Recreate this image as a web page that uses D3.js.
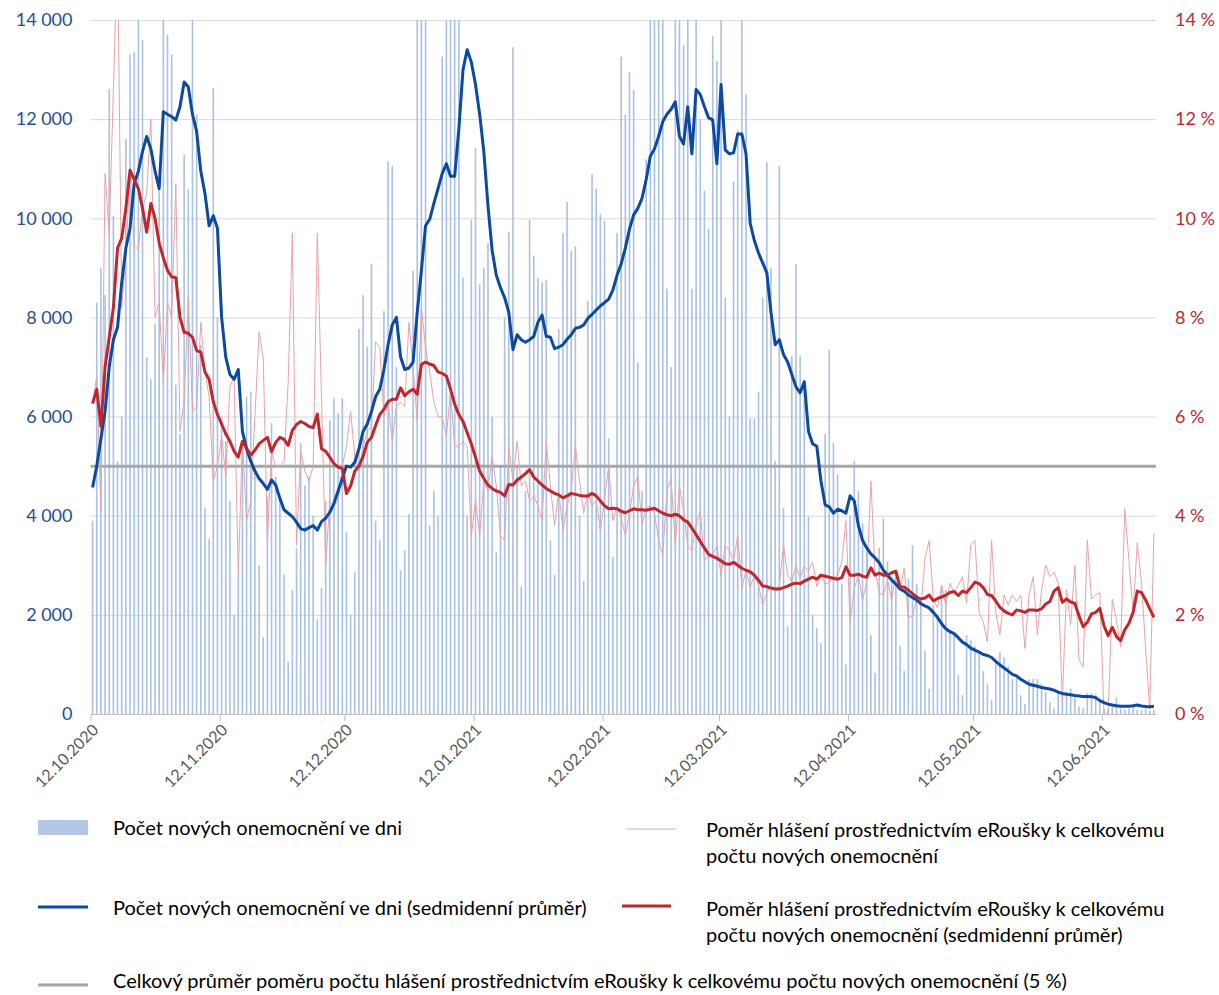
<!DOCTYPE html>
<html>
<head>
<meta charset="utf-8">
<script src="https://cdn.jsdelivr.net/npm/d3@7"></script>
<style>
  body { margin: 0; background: #fff; }
  text { font-family: Lato, 'Open Sans', sans-serif; }
</style>
</head>
<body>
<div id="chart"></div>
<script>
// first day of the series, then one value per day
const firstDay = '12.10.2020';
const monthTicks = ['12.10.2020', '12.11.2020', '12.12.2020', '12.01.2021', '12.02.2021',
  '12.03.2021', '12.04.2021', '12.05.2021', '12.06.2021'];
const leftTicks = [0, 2000, 4000, 6000, 8000, 10000, 12000, 14000];
const rightTicks = [0, 2, 4, 6, 8, 10, 12, 14];
const overallShare = 5;

// Počet nových onemocnění ve dni
const dailyCases = [
  3900, 8300, 9000, 8450, 12600, 10050, 5100,
  6000, 11600, 13300, 13350, 15200, 13600, 7200,
  6750, 7870, 10800, 17000, 13700, 13300, 6640,
  5650, 11280, 10580, 15000, 12100, 7450, 4160,
  3530, 12630, 8000, 6000, 5500, 4300, 2000,
  2800, 5500, 6400, 6500, 5000, 3000, 1550,
  4390, 5870, 4790, 4390, 2810, 1050, 2500,
  3350, 5470, 4610, 4790, 4000, 1910, 2540,
  4300, 5920, 6370, 6060, 6370, 3670, 2000,
  2860, 7770, 8450, 7410, 9080, 3900, 3500,
  8130, 11150, 11060, 7000, 2900, 3300, 4030,
  8940, 16500, 17000, 15000, 3800, 4500, 4000,
  13260, 17000, 16000, 15500, 15000, 8800, 4000,
  9970, 11420, 8670, 9000, 9500, 6000, 3260,
  5000, 8000, 9720, 13450, 5000, 2570,
  4500, 9970, 9250, 8800, 8710, 8760, 3500,
  2810, 7770, 9700, 10330, 9340, 9430, 4000,
  2680, 8330, 10890, 10600, 10080, 9950, 5560,
  3170, 9700, 13260, 12090, 12950, 12590, 7090,
  4500, 11190, 15000, 15500, 15500, 15000, 8580,
  7000, 14500, 15000, 13490, 15500, 8580, 15500,
  12000, 10560, 9790, 13670, 13170, 15500, 8400,
  6000, 10740, 11780, 15000, 12500, 5960, 5960,
  6500, 8400, 11130, 9000, 5110, 11060, 4160,
  1770, 7220, 9080, 7220, 6730, 3980, 2000,
  1730, 1430, 5650, 7340, 5470, 4840, 2630,
  1000, 4000, 5110, 4500, 3850, 3400, 1590,
  830, 3350, 3940, 3080, 2770, 2900, 1370,
  870, 2720, 3400, 2630, 2320, 1280, 510,
  2200, 2000, 2590, 2500, 1640, 1610, 780,
  380, 1590, 1500, 1370, 1240, 870, 600,
  290, 1050, 1250, 1140, 960, 710, 730,
  380, 200, 700, 710, 700, 600, 450,
  240, 110, 420, 420, 450, 510, 330,
  150, 110, 420, 420, 400, 240, 110,
  80, 200, 330, 110, 90, 110, 150,
  80, 80, 110, 60, 80
];

// Počet nových onemocnění ve dni (sedmidenní průměr)
const casesAvg = [
  4570, 5000, 5550, 6100, 7000, 7550, 7800,
  8700, 9400, 9800, 10700, 10950, 11350, 11650,
  11400, 10950, 10600, 12150, 12100, 12050, 11980,
  12250, 12750, 12650, 12100, 11750, 10950, 10500,
  9850, 10050, 9800, 8000, 7200, 6850, 6750,
  6950, 5700, 5350, 5100, 4900, 4750, 4650,
  4530, 4720, 4620, 4350, 4120, 4050, 3980,
  3870, 3740, 3710, 3760, 3800, 3710, 3880,
  3950, 4070, 4250, 4500, 4750, 5000, 4980,
  5080, 5350, 5700, 5850, 6100, 6400, 6550,
  6950, 7450, 7850, 8000, 7200, 6950, 6980,
  7100, 8100, 8950, 9850, 9980, 10300, 10600,
  10900, 11100, 10850, 10850, 11800, 13000, 13400,
  13150, 12700, 12100, 11350, 10250, 9350, 8850,
  8600, 8400, 8100, 7350, 7650, 7550,
  7500, 7550, 7620, 7900, 8050, 7620, 7600,
  7370, 7400, 7450, 7560, 7650, 7780, 7800,
  7850, 7980, 8060, 8150, 8230, 8300, 8370,
  8550, 8850, 9080, 9400, 9780, 10070, 10200,
  10400, 10780, 11250, 11400, 11650, 11950, 12100,
  12200, 12350, 11650, 11500, 12250, 11300, 12600,
  12500, 12250, 12030, 11980, 11100, 12700, 11380,
  11300, 11320, 11700, 11700, 11300, 9900, 9550,
  9300, 9100, 8900, 8100, 7450, 7550, 7250,
  7100, 6850, 6600, 6480, 6700, 5700, 5450,
  5400, 4700, 4220, 4180, 4050, 4130, 4100,
  4050, 4400, 4300, 3800, 3500, 3350, 3230,
  3150, 3050, 2900, 2800, 2700, 2620, 2520,
  2480, 2400, 2350, 2300, 2230, 2180, 2140,
  2050, 1950, 1820, 1720, 1660, 1620, 1540,
  1450, 1400, 1330, 1290, 1250, 1200, 1180,
  1140, 1060, 990, 930, 865, 800, 770,
  700, 650, 600, 580, 560, 535, 520,
  505, 480, 440, 415, 400, 390, 375,
  365, 355, 355, 350, 330, 270, 230,
  200, 180, 168, 158, 155, 155, 165,
  180, 160, 150, 145, 155
];

// Poměr hlášení prostřednictvím eRoušky k celkovému počtu nových onemocnění (%)
const dailyShare = [
  6.3, 6.8, 4.1, 10.9, 9.7, 12.6, 15.5,
  8.2, 9.2, 11.0, 9.4, 9.4, 10.2, 10.5,
  12.0, 8.0, 8.3, 6.7, 8.3, 8.0, 10.7,
  5.7, 6.3, 8.4, 6.1, 6.2, 7.9, 6.9,
  6.4, 4.7, 5.0, 5.6, 4.8, 6.6, 6.8,
  2.8, 5.5, 3.9, 4.3, 6.0, 7.7, 7.2,
  3.5, 5.3, 5.0, 5.0, 5.1, 6.7, 9.7,
  3.4, 5.3, 4.9, 4.7, 5.0, 9.7, 6.4,
  3.0, 4.3, 4.2, 4.3, 5.0, 5.4, 6.1,
  5.2, 4.9, 5.4, 5.7, 5.8, 7.5, 7.4,
  6.0, 6.3, 5.5, 6.2, 6.3, 6.2, 7.9,
  7.0, 5.9, 8.2, 7.4, 6.9, 6.3, 6.0,
  6.0, 5.6, 6.5, 5.4, 5.4, 5.5, 5.4,
  3.6, 4.3, 3.6, 4.7, 4.5, 5.2, 4.6,
  3.6, 3.5, 5.4, 4.7, 5.5, 4.6,
  4.7, 4.3, 4.4, 4.2, 3.9, 5.5, 4.6,
  3.8, 4.5, 3.7, 4.2, 4.5, 5.4, 4.7,
  4.05, 4.5, 4.2, 4.3, 3.7, 4.35, 5.0,
  3.9, 4.2, 3.95, 3.6, 4.05, 4.6, 4.8,
  3.8, 4.15, 4.2, 4.05, 3.5, 3.2, 4.5,
  4.75, 3.4, 4.6, 4.1, 3.4, 3.3, 3.8,
  4.1, 3.1, 3.2, 3.2, 3.4, 2.8, 3.4,
  3.3, 3.1, 3.6, 2.55, 2.9, 2.55, 2.8,
  2.6, 2.2, 2.45, 2.6, 2.5, 2.6, 3.4,
  2.8, 2.66, 2.98, 2.75, 2.98, 2.89, 3.07,
  2.57, 2.8, 2.62, 2.66, 2.75, 2.8, 3.07,
  3.9, 1.85, 2.53, 2.8, 2.3, 2.66, 4.7,
  2.89, 2.44, 2.4, 2.7, 2.3, 2.82, 2.5,
  2.94, 1.95, 1.97, 2.34, 2.15, 3.14, 3.5,
  2.32, 2.14, 2.59, 2.18, 2.64, 2.45, 2.59,
  2.77, 2.23, 3.41, 3.5, 2.05, 1.86, 1.45,
  3.5, 2.05, 1.6, 2.4, 2.2, 2.4, 2.27,
  2.4, 1.32, 2.4, 2.77, 1.6, 2.5, 3.0,
  2.77, 2.86, 2.64, 0.27, 2.5, 1.8, 3.0,
  1.1, 0.95, 3.5, 2.32, 2.4, 2.45, 0.0,
  0.0, 2.32, 1.9, 1.35, 4.14, 3.09, 2.05,
  3.45, 2.68, 1.32, 0.1, 3.65
];

// Poměr ... (sedmidenní průměr, %)
const shareAvg = [
  6.26, 6.55, 5.80, 7.00, 7.60, 8.20, 9.40,
  9.60, 10.20, 10.97, 10.78, 10.60, 10.20, 9.72,
  10.30, 10.00, 9.50, 9.20, 8.95, 8.82, 8.80,
  8.00, 7.70, 7.68, 7.60, 7.33, 7.30, 6.90,
  6.75, 6.30, 6.04, 5.85, 5.65, 5.50, 5.30,
  5.18, 5.50, 5.36, 5.22, 5.32, 5.45, 5.52,
  5.58, 5.29, 5.48, 5.58, 5.54, 5.42, 5.72,
  5.84, 5.90, 5.86, 5.80, 5.78, 6.05, 5.35,
  5.30, 5.18, 5.05, 4.98, 4.95, 4.45, 4.60,
  4.90, 5.00, 5.20, 5.48, 5.58, 5.82, 6.04,
  6.15, 6.30, 6.35, 6.35, 6.58, 6.42, 6.50,
  6.55, 6.45, 7.05, 7.10, 7.06, 7.03, 6.90,
  6.87, 6.82, 6.55, 6.25, 6.04, 5.90, 5.68,
  5.45, 5.18, 4.90, 4.75, 4.62, 4.55, 4.50,
  4.47, 4.40, 4.63, 4.62, 4.72, 4.78,
  4.85, 4.93, 4.78, 4.70, 4.62, 4.55, 4.50,
  4.45, 4.42, 4.36, 4.40, 4.45, 4.43, 4.41,
  4.40, 4.40, 4.45, 4.40, 4.30, 4.20, 4.14,
  4.15, 4.14, 4.09, 4.06, 4.10, 4.14, 4.12,
  4.12, 4.11, 4.13, 4.15, 4.10, 4.05, 4.02,
  4.00, 4.03, 4.00, 3.92, 3.87, 3.75, 3.62,
  3.48, 3.35, 3.22, 3.18, 3.14, 3.09, 3.03,
  3.02, 3.06, 3.00, 2.94, 2.90, 2.87, 2.80,
  2.70, 2.58, 2.57, 2.54, 2.52, 2.52, 2.55,
  2.58, 2.62, 2.64, 2.63, 2.68, 2.72, 2.76,
  2.72, 2.80, 2.78, 2.76, 2.74, 2.72, 2.75,
  2.97, 2.80, 2.80, 2.82, 2.78, 2.76, 2.95,
  2.80, 2.84, 2.80, 2.80, 2.85, 2.88, 2.56,
  2.56, 2.50, 2.43, 2.36, 2.32, 2.34, 2.40,
  2.28, 2.33, 2.36, 2.40, 2.45, 2.47, 2.39,
  2.48, 2.45, 2.55, 2.66, 2.63, 2.55, 2.41,
  2.39, 2.28, 2.15, 2.08, 2.03, 2.00, 2.10,
  2.08, 2.05, 2.10, 2.10, 2.09, 2.12, 2.22,
  2.27, 2.48, 2.55, 2.25, 2.32, 2.26, 2.23,
  1.98, 1.76, 1.85, 2.02, 2.05, 2.13, 1.78,
  1.58, 1.75, 1.56, 1.48, 1.70, 1.83, 2.05,
  2.48, 2.45, 2.30, 2.12, 1.95
];

const legendLabels = {
  bars: 'Počet nových onemocnění ve dni',
  avg: 'Počet nových onemocnění ve dni (sedmidenní průměr)',
  share: ['Poměr hlášení prostřednictvím eRoušky k celkovému', 'počtu nových onemocnění'],
  shareAvg: ['Poměr hlášení prostřednictvím eRoušky k celkovému', 'počtu nových onemocnění (sedmidenní průměr)'],
  overall: 'Celkový průměr poměru počtu hlášení prostřednictvím eRoušky k celkovému počtu nových onemocnění (5 %)'
};

//Chart dimensions
const margin = { top: 20, right: 63, bot: 281, left: 90.5 };
const width = 1219 - margin.left - margin.right;
const height = 995 - margin.top - margin.bot;
const colors = {
  bars: '#a9c1e6', avg: '#0b4a9e', share: '#e8a3a7',
  shareAvg: '#c0272d', overall: '#a6a6a6', grid: '#d9d9d9',
  leftText: '#1f4e96', axisText: '#595959'
};

//Formats
const parseDay = d3.utcParse('%d.%m.%Y');
const fmtNum = d3.formatLocale({ decimal: ',', thousands: ' ', grouping: [3], currency: ['', ''] }).format(',d');

const start = parseDay(firstDay);
const nDays = dailyCases.length;
const days = d3.range(nDays).map(i => d3.utcDay.offset(start, i));

// Scale
const xScale = d3.scaleUtc()
  .domain([start, d3.utcDay.offset(start, nDays)])
  .range([0, width]);
const dayW = width / nDays;
const xMid = i => xScale(days[i]) + dayW / 2;

const yLeft = d3.scaleLinear().domain([0, 14000]).range([height, 0]);
const yRight = d3.scaleLinear().domain([0, 14]).range([height, 0]);

//svg
const svg = d3.select('#chart').append('svg')
  .attr('width', 1219)
  .attr('height', 995);

svg.append('defs').append('clipPath')
  .attr('id', 'clip')
  .append('rect')
  .attr('width', width)
  .attr('height', height + 1);

const g = svg.append('g')
  .attr('transform', `translate(${margin.left}, ${margin.top})`);

// grid
g.append('g')
  .call(d3.axisLeft(yLeft).tickValues(leftTicks.slice(1)).tickSize(-width).tickFormat(''))
  .call(s => s.select('.domain').remove())
  .call(s => s.selectAll('line').attr('stroke', colors.grid));

// Axes
g.append('g')
  .call(d3.axisLeft(yLeft).tickValues(leftTicks).tickSize(0).tickPadding(18).tickFormat(fmtNum))
  .call(s => s.select('.domain').remove())
  .call(s => s.selectAll('text').attr('fill', colors.leftText).style('font-size', '18px').style('font-family', 'Lato'));

g.append('g')
  .attr('transform', `translate(${width}, 0)`)
  .call(d3.axisRight(yRight).tickValues(rightTicks).tickSize(0).tickPadding(19).tickFormat(d => d + ' %'))
  .call(s => s.select('.domain').remove())
  .call(s => s.selectAll('text').attr('fill', colors.shareAvg).style('font-size', '18px').style('font-family', 'Lato'));

const plot = g.append('g').attr('clip-path', 'url(#clip)');

// bars
plot.append('g')
  .selectAll('rect')
  .data(dailyCases)
  .join('rect')
  .attr('x', (d, i) => xMid(i) - 0.8)
  .attr('width', 1.6)
  .attr('y', d => yLeft(d))
  .attr('height', d => height - yLeft(d))
  .attr('fill', colors.bars);

// overall average 5 %
plot.append('line')
  .attr('x1', 0).attr('x2', width)
  .attr('y1', yRight(overallShare)).attr('y2', yRight(overallShare))
  .attr('stroke', colors.overall)
  .attr('stroke-width', 3);

const shareLine = d3.line()
  .x((d, i) => xMid(i))
  .y(d => yRight(d));

const casesLine = d3.line()
  .x((d, i) => xMid(i))
  .y(d => yLeft(d));

plot.append('path')
  .datum(dailyShare)
  .attr('d', shareLine)
  .attr('fill', 'none')
  .attr('stroke', colors.share)
  .attr('stroke-width', 1);

plot.append('path')
  .datum(casesAvg)
  .attr('d', casesLine)
  .attr('fill', 'none')
  .attr('stroke', colors.avg)
  .attr('stroke-width', 3)
  .attr('stroke-linejoin', 'round');

plot.append('path')
  .datum(shareAvg)
  .attr('d', shareLine)
  .attr('fill', 'none')
  .attr('stroke', colors.shareAvg)
  .attr('stroke-width', 3)
  .attr('stroke-linejoin', 'round');

// x axis
const tickDates = monthTicks.map(parseDay);
g.append('g')
  .attr('transform', `translate(0, ${height})`)
  .call(d3.axisBottom(xScale).tickValues(tickDates).tickSize(7).tickSizeOuter(0).tickFormat(''))
  .call(s => s.select('.domain').attr('stroke', '#bfbfbf'))
  .call(s => s.selectAll('.tick line').attr('stroke', '#bfbfbf'));

g.append('g')
  .selectAll('text')
  .data(tickDates)
  .join('text')
  .attr('transform', d => `translate(${xScale(d) + 5}, ${height + 13}) rotate(-45)`)
  .attr('text-anchor', 'end')
  .attr('dy', '0.35em')
  .attr('fill', colors.axisText)
  .style('font-size', '16px')
  .text((d, i) => monthTicks[i]);

// legend
const legend = svg.append('g').attr('class', 'legend').style('font-size', '20px').attr('fill', '#000');

legend.append('rect')
  .attr('x', 38).attr('y', 820).attr('width', 50).attr('height', 15)
  .attr('fill', '#b4c7e7');
legend.append('text').attr('x', 113).attr('y', 828).attr('dy', '0.35em').text(legendLabels.bars);

legend.append('line')
  .attr('x1', 38).attr('x2', 88).attr('y1', 907).attr('y2', 907)
  .attr('stroke', colors.avg).attr('stroke-width', 3);
legend.append('text').attr('x', 113).attr('y', 908).attr('dy', '0.35em').text(legendLabels.avg);

legend.append('line')
  .attr('x1', 38).attr('x2', 88).attr('y1', 985).attr('y2', 985)
  .attr('stroke', colors.overall).attr('stroke-width', 3);
legend.append('text').attr('x', 113).attr('y', 982).attr('dy', '0.32em').text(legendLabels.overall);

legend.append('line')
  .attr('x1', 626).attr('x2', 676).attr('y1', 829).attr('y2', 829)
  .attr('stroke', colors.share).attr('stroke-width', 1);
const t1 = legend.append('text').attr('x', 706).attr('y', 830).attr('dy', '0.35em');
t1.append('tspan').text(legendLabels.share[0]);
t1.append('tspan').attr('x', 706).attr('dy', 26).text(legendLabels.share[1]);

legend.append('line')
  .attr('x1', 622).attr('x2', 671).attr('y1', 906).attr('y2', 906)
  .attr('stroke', colors.shareAvg).attr('stroke-width', 3);
const t2 = legend.append('text').attr('x', 706).attr('y', 909).attr('dy', '0.35em');
t2.append('tspan').text(legendLabels.shareAvg[0]);
t2.append('tspan').attr('x', 706).attr('dy', 26).text(legendLabels.shareAvg[1]);
</script>
</body>
</html>
